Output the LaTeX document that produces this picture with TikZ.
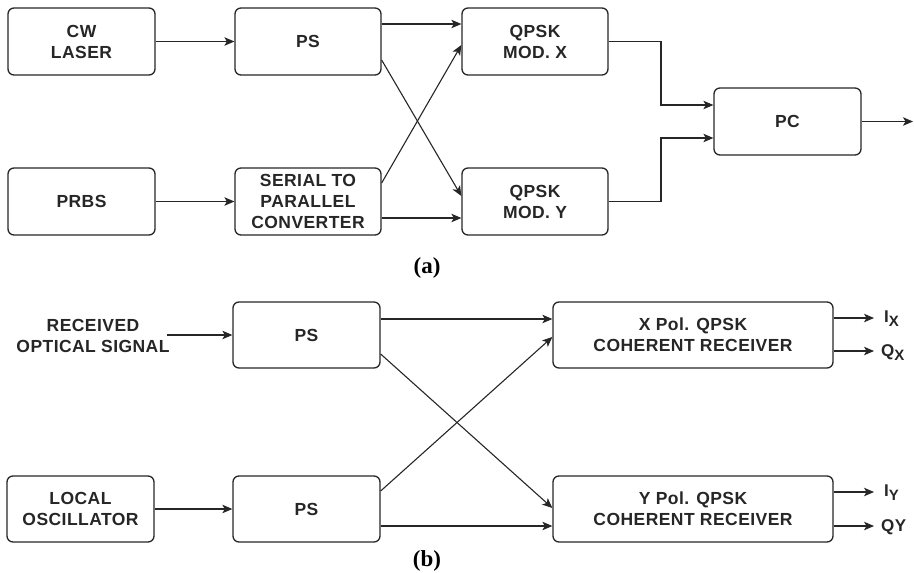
\documentclass[tikz,border=0pt]{standalone}
\usepackage{fontspec}
\setmainfont{Liberation Sans}[LetterSpace=2.5]
\newfontfamily\capfont{Liberation Serif}
\usetikzlibrary{arrows.meta,calc}
\newcommand{\lowsub}[1]{\raisebox{-4.5pt}{\fontsize{15}{15}\selectfont #1}}
\begin{document}
\begin{tikzpicture}[x=1pt,y=-1pt,
  >={Stealth[length=10pt,width=8.5pt,inset=2.5pt]},
  blk/.style={draw=black!85,line width=1.3pt,rounded corners=6pt,align=center,
    font=\fontsize{17.5}{21}\selectfont\bfseries,inner sep=0pt,text=black!85},
  lbl/.style={align=center,font=\fontsize{17.5}{21}\selectfont\bfseries,inner sep=0pt,text=black!85},
  wire/.style={->,line width=1.1pt,draw=black!85},
  subcap/.style={font=\capfont\fontsize{23}{26}\selectfont\bfseries,inner sep=0pt},
  outl/.style={anchor=west,font=\fontsize{17}{19}\selectfont\bfseries,inner sep=0pt,text=black!85}]
\useasboundingbox (0,0) rectangle (914,573);
% ---------- (a)
\node[blk,minimum width=147pt,minimum height=67pt] (cw) at (81.5,41.5) {CW\\LASER};
\node[blk,minimum width=146pt,minimum height=67pt] (ps1) at (308,41.5) {PS};
\node[blk,minimum width=147pt,minimum height=67pt] (prbs) at (81.5,201.5) {PRBS};
\node[blk,minimum width=146pt,minimum height=67pt] (spc) at (308,201.5) {SERIAL TO\\PARALLEL\\CONVERTER};
\node[blk,minimum width=146pt,minimum height=67pt] (modx) at (535,41.5) {QPSK\\MOD. X};
\node[blk,minimum width=146pt,minimum height=67pt] (mody) at (535,201.5) {QPSK\\MOD. Y};
\node[blk,minimum width=147pt,minimum height=67pt] (pc) at (787.5,121.5) {PC};
\coordinate (pcout) at (913,121.5);
\coordinate (jx) at (661,41.5);
\coordinate (jy) at (661,201.5);
\node[subcap] (capa) at (427,268) {(a)};

\draw[wire] (cw.east) -- (ps1.west);
\draw[wire] (prbs.east) -- (spc.west);
\draw[wire] ([yshift=17.5pt]ps1.east) -- ([yshift=17.5pt]modx.west);
\draw[wire] ([yshift=-18.5pt]ps1.east) -- ([yshift=5.5pt]mody.west);
\draw[wire] ([yshift=18.5pt]spc.east) -- ([yshift=-3.5pt]modx.west);
\draw[wire] ([yshift=-16.5pt]spc.east) -- ([yshift=-16.5pt]mody.west);
\draw[wire] (modx.east) -- (jx) |- ([yshift=16.5pt]pc.west);
\draw[wire] (mody.east) -- (jy) |- ([yshift=-16.5pt]pc.west);
\draw[wire] (pc.east) -- (pcout);

% ---------- (b)
\node[lbl] (rcv) at (93,336) {RECEIVED\\OPTICAL SIGNAL};
\coordinate (rin) at (167,335);
\node[blk,minimum width=147pt,minimum height=66pt] (ps2) at (306.5,335) {PS};
\node[blk,minimum width=147pt,minimum height=66pt] (lo) at (80.5,509) {LOCAL\\OSCILLATOR};
\node[blk,minimum width=147pt,minimum height=66pt] (ps3) at (306.5,509) {PS};
\node[blk,minimum width=280pt,minimum height=66pt] (xr) at (693,335) {X Pol. QPSK\\COHERENT RECEIVER};
\node[blk,minimum width=280pt,minimum height=66pt] (yr) at (693,509) {Y Pol. QPSK\\COHERENT RECEIVER};
\node[subcap] (capb) at (427,561) {(b)};

\draw[wire] (rin) -- (ps2.west);
\draw[wire] (lo.east) -- (ps3.west);
\draw[wire] ([yshift=16pt]ps2.east) -- ([yshift=16pt]xr.west);
\draw[wire] ([yshift=-19pt]ps2.east) -- ([yshift=1pt]yr.west);
\draw[wire] ([yshift=18pt]ps3.east) -- ([yshift=-2pt]xr.west);
\draw[wire] ([yshift=-17pt]ps3.east) -- ([yshift=-17pt]yr.west);

\coordinate (ixe) at (874,318);
\coordinate (qxe) at (874,351);
\coordinate (iye) at (874,492);
\coordinate (qye) at (874,526);
\node[outl,anchor=base west] (ix) at (884,322) {I\lowsub{X}};
\node[outl,anchor=base west] (qx) at (881,356) {Q\lowsub{X}};
\node[outl,anchor=base west] (iy) at (884,496) {I\lowsub{Y}};
\node[outl,anchor=base west] (qy) at (881,531) {QY};
\draw[wire] ([yshift=17pt]xr.east) -- (ixe);
\draw[wire] ([yshift=-16pt]xr.east) -- (qxe);
\draw[wire] ([yshift=17pt]yr.east) -- (iye);
\draw[wire] ([yshift=-17pt]yr.east) -- (qye);
\end{tikzpicture}
\end{document}
